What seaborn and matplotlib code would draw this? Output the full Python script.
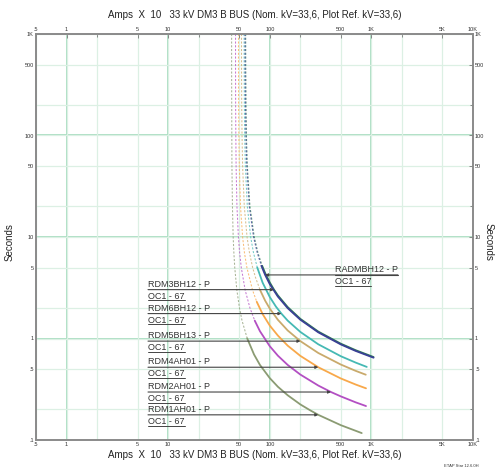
import matplotlib
matplotlib.use('Agg')
import matplotlib.pyplot as plt
import matplotlib.transforms as mtransforms
from matplotlib.ticker import FixedLocator, FixedFormatter, NullFormatter
import pandas as pd
import seaborn as sns

# Curvas de tempo x corrente (Amps X 10, segundos)
relays = ['RADMBH12', 'RDM3BH12', 'RDM6BH12', 'RDM5BH13', 'RDM4AH01', 'RDM2AH01', 'RDM1AH01']

radmbh12_amps = [57.1, 57.2, 57.6, 58.1, 59.3, 62.8, 69.2, 75.2, 82.7, 90, 100, 120, 150, 200, 300, 500, 700, 1050]
radmbh12_secs = [1000, 500, 200, 100, 50, 20, 10, 7, 5.2, 4.23, 3.43, 2.59, 1.99, 1.53, 1.15, 0.874, 0.754, 0.647]

rdm3bh12_amps = [57.9, 58.0, 58.4, 58.9, 60.1, 63.8, 70.3, 76.4, 84.1, 90, 100, 110, 120, 150, 200, 300, 500, 700, 1050]
rdm3bh12_secs = [1000, 500, 200, 100, 50, 20, 10, 7, 5.2, 4.41, 3.56, 3.03, 2.66, 2.04, 1.56, 1.17, 0.889, 0.767, 0.657]

rdm6bh12_amps = [55.9, 56.0, 56.2, 56.6, 57.5, 60.1, 64.8, 69.1, 75.3, 85, 100, 115, 130, 150, 200, 300, 500, 700, 900]
rdm6bh12_secs = [1000, 500, 200, 100, 50, 20, 10, 7, 5, 3.55, 2.56, 2.06, 1.76, 1.50, 1.16, 0.877, 0.669, 0.579, 0.525]

rdm5bh13_amps = [52.7, 52.7, 52.9, 53.3, 54.0, 56.1, 59.7, 63.1, 67.8, 72.3, 80.3, 90, 100, 120, 150, 200, 300, 500, 700, 880]
rdm5bh13_secs = [1000, 500, 200, 100, 50, 20, 10, 7, 5, 4, 3, 2.36, 1.97, 1.53, 1.20, 0.942, 0.720, 0.554, 0.480, 0.440]

rdm4ah01_amps = [49.2, 49.2, 49.3, 49.6, 50.1, 51.5, 54.0, 56.3, 59.5, 67.6, 74.4, 85, 100, 120, 150, 200, 300, 500, 700, 885]
rdm4ah01_secs = [1000, 500, 200, 100, 50, 20, 10, 7, 5, 3, 2.3, 1.74, 1.34, 1.07, 0.850, 0.674, 0.521, 0.404, 0.352, 0.323]

rdm2ah01_amps = [46.0, 46.0, 46.1, 46.3, 46.6, 47.5, 49.1, 50.5, 52.4, 57.2, 63.8, 71.1, 80, 100, 120, 150, 200, 300, 400, 500, 700, 885]
rdm2ah01_secs = [1000, 500, 200, 100, 50, 20, 10, 7, 5, 3, 2, 1.5, 1.18, 0.839, 0.678, 0.549, 0.441, 0.344, 0.297, 0.269, 0.235, 0.216]

rdm1ah01_amps = [42.1, 42.1, 42.2, 42.3, 42.4, 42.9, 43.6, 44.3, 45.2, 47.4, 50.3, 53.3, 60.0, 70, 80, 100, 120, 150, 200, 250, 300, 500, 803]
rdm1ah01_secs = [1000, 500, 200, 100, 50, 20, 10, 7, 5, 3, 2, 1.5, 1.0, 0.695, 0.549, 0.407, 0.335, 0.276, 0.224, 0.196, 0.177, 0.140, 0.117]

# abaixo deste tempo a curva é contínua, acima é tracejada
solid_below = [5.2, 5.2, 5, 3, 2.3, 1.5, 1.0]

# corrente onde a seta de cada rótulo toca a curva
tip_amps = [90, 110, 130, 200, 300, 400, 300]

x_ticks = [0.5, 1, 5, 10, 50, 100, 500, 1000, 5000, 10000]
x_labels = ['.5', '1', '5', '10', '50', '100', '500', '1K', '5K', '10K']
y_ticks = [0.1, 0.5, 1, 5, 10, 50, 100, 500, 1000]
y_labels = ['.1', '.5', '1', '5', '10', '50', '100', '500', '1K']

amps_lists = [radmbh12_amps, rdm3bh12_amps, rdm6bh12_amps, rdm5bh13_amps, rdm4ah01_amps, rdm2ah01_amps, rdm1ah01_amps]
secs_lists = [radmbh12_secs, rdm3bh12_secs, rdm6bh12_secs, rdm5bh13_secs, rdm4ah01_secs, rdm2ah01_secs, rdm1ah01_secs]

colors = {'RADMBH12': '#3a3f96', 'RDM3BH12': '#2e7a55', 'RDM6BH12': '#45b9b4',
          'RDM5BH13': '#c9aa6c', 'RDM4AH01': '#f8a84a', 'RDM2AH01': '#b34fc3',
          'RDM1AH01': '#8b9b73'}

rows = []
for name, amps, secs, cut in zip(relays, amps_lists, secs_lists, solid_below):
    for a, s in zip(amps, secs):
        if s >= cut:
            rows.append((name, 'dash', a, s))
        if s <= cut:
            rows.append((name, 'solid', a, s))
df = pd.DataFrame(rows, columns=['relay', 'part', 'amps', 'secs'])

sns.set_style('white')
plt.rcParams['font.family'] = ['Liberation Sans', 'DejaVu Sans']

fig = plt.figure(figsize=(4.96, 4.72), dpi=100)
ax = fig.add_axes([36 / 496, 32 / 472, 437 / 496, 406 / 472])
ax.set_xscale('log')
ax.set_yscale('log')

# grade verde
light = '#dcf0e4'
dark = '#a6dcbf'
ax.set_axisbelow(True)
ax.xaxis.set_major_locator(FixedLocator(x_ticks))
ax.xaxis.set_major_formatter(FixedFormatter(x_labels))
ax.xaxis.set_minor_locator(FixedLocator([2, 20, 200, 2000]))
ax.xaxis.set_minor_formatter(NullFormatter())
ax.yaxis.set_major_locator(FixedLocator(y_ticks))
ax.yaxis.set_major_formatter(FixedFormatter(y_labels))
ax.yaxis.set_minor_locator(FixedLocator([0.2, 2, 20, 200]))
ax.yaxis.set_minor_formatter(NullFormatter())
ax.grid(which='both', color=light, lw=0.9)
for v in [1, 10, 100, 1000]:
    ax.axvline(v, color=dark, lw=1.3, zorder=0.5)
for v in [1, 10, 100]:
    ax.axhline(v, color=dark, lw=1.3, zorder=0.5)

# parte tracejada (mais clara) e parte contínua
sns.lineplot(data=df[df['part'] == 'dash'], x='amps', y='secs', hue='relay',
             hue_order=relays[::-1], palette=colors, sort=False, estimator=None,
             legend=False, ax=ax, lw=0.75, alpha=0.75, dashes=False,
             linestyle=(0, (2, 1.6)))
sns.lineplot(data=df[df['part'] == 'solid'], x='amps', y='secs', hue='relay',
             hue_order=relays[::-1], palette=colors, sort=False, estimator=None,
             legend=False, ax=ax, lw=1.3)

ax.set_xlim(0.5, 10000)
ax.set_ylim(0.1, 1000)
ax.set_xlabel('')
ax.set_ylabel('')

for side in ['top', 'bottom', 'left', 'right']:
    ax.spines[side].set_color('#8a8a8a')
    ax.spines[side].set_linewidth(1.4)
    ax.spines[side].set_visible(True)

ax.tick_params(which='both', direction='in', top=True, right=True, labeltop=True,
               labelright=True, color='#777777', width=0.6)
ax.tick_params(which='major', length=3, labelsize=4, pad=1.5, labelcolor='#333333')
ax.tick_params(which='minor', length=2.5)

# rótulos dos relés
fig.canvas.draw()
renderer = fig.canvas.get_renderer()
ytrans = ax.get_yaxis_transform()
above = mtransforms.offset_copy(ytrans, fig=fig, y=0.6, units='points')
below = mtransforms.offset_copy(ytrans, fig=fig, y=-1.6, units='points')
inv = ax.transAxes.inverted()
line_color = '#444444'

for i, name in enumerate(relays):
    amps = amps_lists[i]
    secs = secs_lists[i]
    tip = (tip_amps[i], secs[amps.index(tip_amps[i])])
    lx = 0.684 if name == 'RADMBH12' else 0.2563
    t1 = ax.text(lx, tip[1], name + ' - P', transform=above, fontsize=6.5,
                 color='#333333', ha='left', va='bottom')
    t2 = ax.text(lx, tip[1], 'OC1 - 67', transform=below, fontsize=6.5,
                 color='#333333', ha='left', va='top')
    b1 = t1.get_window_extent(renderer)
    b2 = t2.get_window_extent(renderer)
    x0 = inv.transform((b1.x0, b1.y0))[0]
    x1 = inv.transform((b1.x1, b1.y0))[0]
    start = x1 if name == 'RADMBH12' else x0
    if name == 'RADMBH12':
        ax.plot([x0, x1], [tip[1], tip[1]], transform=ytrans, color=line_color, lw=0.8)
    ax.annotate('', xy=tip, xycoords='data', xytext=(start, tip[1]), textcoords=ytrans,
                arrowprops=dict(arrowstyle='-|>', color=line_color, lw=0.8,
                                mutation_scale=4, shrinkA=0, shrinkB=0))
    ux0, uy = inv.transform((b2.x0, b2.y0 + 0.5))
    ux1 = inv.transform((b2.x1, b2.y0))[0]
    ax.plot([ux0, ux1], [uy, uy], transform=ax.transAxes, color=line_color, lw=0.7)

title = 'Amps  X  10   33 kV DM3 B BUS (Nom. kV=33,6, Plot Ref. kV=33,6)'
fig.text(0.513, 0.968, title, ha='center', va='center', fontsize=7, color='#222222')
fig.text(0.513, 0.036, title, ha='center', va='center', fontsize=7, color='#222222')
fig.text(0.02, 0.487, 'Seconds', rotation=90, ha='center', va='center', fontsize=7, color='#222222')
fig.text(0.986, 0.487, 'Seconds', rotation=270, ha='center', va='center', fontsize=7, color='#222222')
fig.text(0.93, 0.012, 'ETAP Star 12.6.0H', ha='center', va='center', fontsize=3, color='#333333')

fig.savefig('out.png', dpi=100, facecolor='white')
plt.close(fig)
